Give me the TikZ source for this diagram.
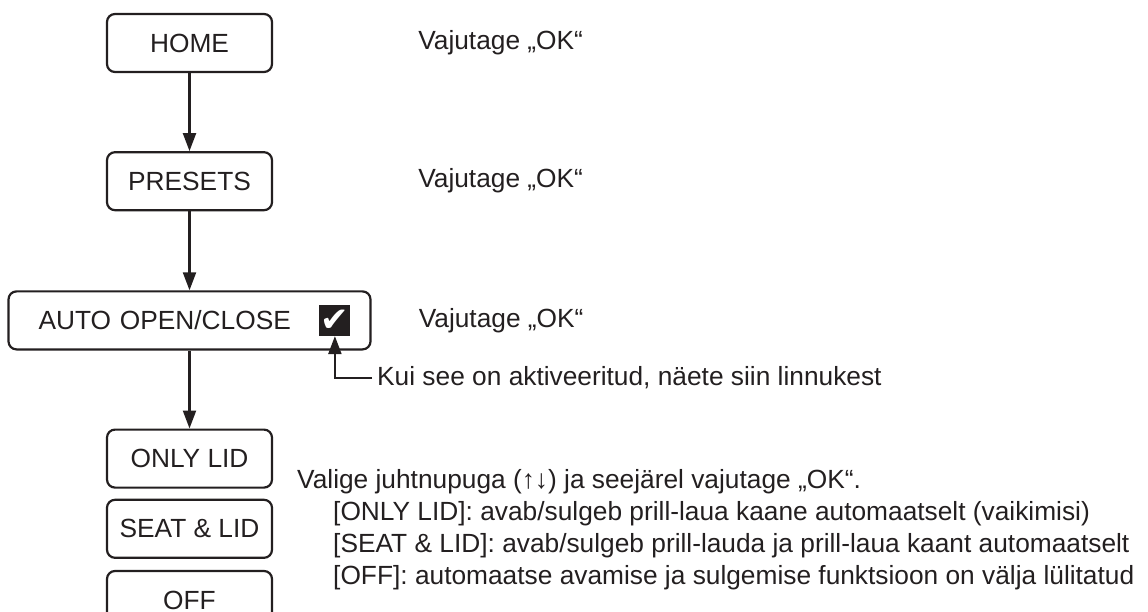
\documentclass[tikz,border=0pt]{standalone}
\usepackage{fontspec}
\setmainfont{Liberation Sans}
\newfontfamily\symfont{DejaVu Sans}
\usetikzlibrary{arrows.meta, positioning}
\definecolor{ink}{HTML}{231F20}
\newcommand{\txtsize}{\fontsize{26.3}{30}\selectfont}

\begin{document}
\begin{tikzpicture}[
  x=1pt, y=-1pt,
  box/.style={draw=ink, line width=2.2pt, rounded corners=8pt, minimum width=165pt, minimum height=58pt, inner sep=0pt, align=center, font=\txtsize, text=ink},
  lbl/.style={inner sep=0pt, font=\txtsize, text=ink},
  note/.style={lbl, anchor=base west},
  chk/.style={fill=ink, minimum size=31pt, inner sep=0pt, text=white, font=\symfont\fontsize{34}{34}\selectfont},
  link/.style={draw=ink, line width=2.2pt},
  >={Triangle[length=18pt, width=13pt]}
]
  \useasboundingbox (0,0) rectangle (1148,612);

  % menu path
  \node[box] (home) at (189.5,43) {HOME};
  \node[box, below=78pt of home] (presets) {PRESETS};
  \node[box, below=79pt of presets, minimum width=362pt, text width=302pt, inner xsep=30pt, align=left] (auto) {AUTO OPEN/CLOSE};
  \node[chk, left=21pt of auto.east] (tick) {✔};
  \node[box, below=78pt of auto] (onlylid) {ONLY LID};
  \node[box, below=10pt of onlylid] (seatlid) {SEAT \& LID};
  \node[box, below=11pt of seatlid] (off) {OFF};

  \draw[link, ->] (home) -- (presets);
  \draw[link, ->] (presets) -- (auto);
  \draw[link, ->] (auto) -- (onlylid);

  % right hand notes
  \node[lbl, right=145pt of home] (ok1) {Vajutage „OK“};
  \node[lbl, right=145pt of presets] (ok2) {Vajutage „OK“};
  \node[lbl, right=47pt of auto] (ok3) {Vajutage „OK“};
  \node[lbl, anchor=west, inner xsep=5pt] (kui) at (372,378) {Kui see on aktiveeritud, näete siin linnukest};
  \draw[link, ->] (kui.west) -| (tick.south);

  \node[note] (sel) at (297,488.5) {Valige juhtnupuga (↑↓) ja seejärel vajutage „OK“.};
  \node[note] (only) at (333,520.5) {[ONLY LID]: avab/sulgeb prill-laua kaane automaatselt (vaikimisi)};
  \node[note] (seat) at (333,552.5) {[SEAT \& LID]: avab/sulgeb prill-lauda ja prill-laua kaant automaatselt};
  \node[note] (offtxt) at (333,584.5) {[OFF]: automaatse avamise ja sulgemise funktsioon on välja lülitatud};
\end{tikzpicture}
\end{document}
